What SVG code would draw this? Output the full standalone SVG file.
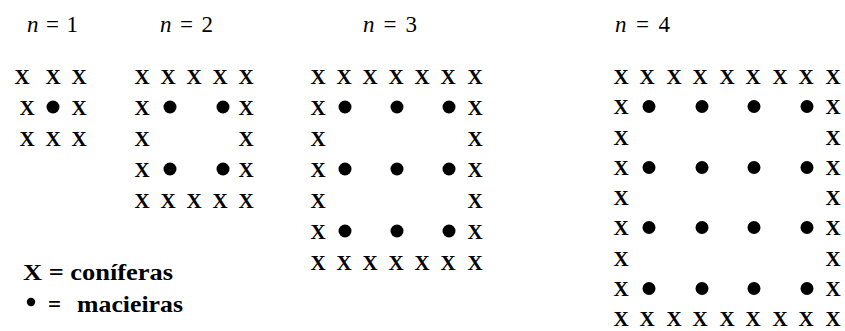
<svg xmlns="http://www.w3.org/2000/svg" width="845" height="331" viewBox="0 0 845 331">
<style>
.x{font-family:"Liberation Serif","Times New Roman",serif;font-weight:bold;font-size:21px;text-anchor:middle;fill:#000}
.lbl{font-family:"Liberation Serif","Times New Roman",serif;font-size:23px;fill:#000}
.lg{font-family:"Liberation Serif","Times New Roman",serif;font-weight:bold;font-size:23px;fill:#000}
.d{fill:#000}
</style>
<rect width="845" height="331" fill="#fff"/>
<g id="n1">
<text class="lbl" x="27" y="32" textLength="51" lengthAdjust="spacing"><tspan font-style="italic">n</tspan> = 1</text>
<text class="x" x="22" y="84">X</text><text class="x" x="53" y="84">X</text><text class="x" x="79" y="84">X</text>
<text class="x" x="27" y="115">X</text><circle class="d" cx="53" cy="107" r="6.5"/><text class="x" x="79" y="115">X</text>
<text class="x" x="27" y="146">X</text><text class="x" x="53" y="146">X</text><text class="x" x="79" y="146">X</text>
</g>
<g id="n2">
<text class="lbl" x="160" y="32" textLength="53" lengthAdjust="spacing"><tspan font-style="italic">n</tspan> = 2</text>
<text class="x" x="142" y="84">X</text><text class="x" x="168" y="84">X</text><text class="x" x="194" y="84">X</text><text class="x" x="220" y="84">X</text><text class="x" x="246" y="84">X</text>
<text class="x" x="142" y="115">X</text><text class="x" x="246" y="115">X</text>
<text class="x" x="142" y="146">X</text><text class="x" x="246" y="146">X</text>
<text class="x" x="142" y="177">X</text><text class="x" x="246" y="177">X</text>
<text class="x" x="142" y="208">X</text><text class="x" x="168" y="208">X</text><text class="x" x="194" y="208">X</text><text class="x" x="220" y="208">X</text><text class="x" x="246" y="208">X</text>
<circle class="d" cx="170" cy="107" r="6.5"/><circle class="d" cx="223" cy="107" r="6.5"/>
<circle class="d" cx="170" cy="169" r="6.5"/><circle class="d" cx="223" cy="169" r="6.5"/>
</g>
<g id="n3">
<text class="lbl" x="363" y="32" textLength="54" lengthAdjust="spacing"><tspan font-style="italic">n</tspan> = 3</text>
<text class="x" x="318" y="84">X</text><text class="x" x="344" y="84">X</text><text class="x" x="370" y="84">X</text><text class="x" x="396" y="84">X</text><text class="x" x="422" y="84">X</text><text class="x" x="448" y="84">X</text><text class="x" x="475" y="84">X</text>
<text class="x" x="318" y="115">X</text><text class="x" x="475" y="115">X</text>
<text class="x" x="318" y="146">X</text><text class="x" x="475" y="146">X</text>
<text class="x" x="318" y="177">X</text><text class="x" x="475" y="177">X</text>
<text class="x" x="318" y="208">X</text><text class="x" x="475" y="208">X</text>
<text class="x" x="318" y="239">X</text><text class="x" x="475" y="239">X</text>
<text class="x" x="318" y="270">X</text><text class="x" x="344" y="270">X</text><text class="x" x="370" y="270">X</text><text class="x" x="396" y="270">X</text><text class="x" x="422" y="270">X</text><text class="x" x="448" y="270">X</text><text class="x" x="475" y="270">X</text>
<circle class="d" cx="345" cy="107" r="6.5"/><circle class="d" cx="397" cy="107" r="6.5"/><circle class="d" cx="449" cy="107" r="6.5"/>
<circle class="d" cx="345" cy="169" r="6.5"/><circle class="d" cx="397" cy="169" r="6.5"/><circle class="d" cx="449" cy="169" r="6.5"/>
<circle class="d" cx="345" cy="231" r="6.5"/><circle class="d" cx="397" cy="231" r="6.5"/><circle class="d" cx="449" cy="231" r="6.5"/>
</g>
<g id="n4">
<text class="lbl" x="615" y="32" textLength="55" lengthAdjust="spacing"><tspan font-style="italic">n</tspan> = 4</text>
<text class="x" x="621" y="84">X</text><text class="x" x="647" y="84">X</text><text class="x" x="674" y="84">X</text><text class="x" x="700" y="84">X</text><text class="x" x="727" y="84">X</text><text class="x" x="753" y="84">X</text><text class="x" x="780" y="84">X</text><text class="x" x="806" y="84">X</text><text class="x" x="833" y="84">X</text>
<text class="x" x="621" y="114">X</text><text class="x" x="833" y="114">X</text>
<text class="x" x="621" y="144.5">X</text><text class="x" x="833" y="144.5">X</text>
<text class="x" x="621" y="175">X</text><text class="x" x="833" y="175">X</text>
<text class="x" x="621" y="205">X</text><text class="x" x="833" y="205">X</text>
<text class="x" x="621" y="235">X</text><text class="x" x="833" y="235">X</text>
<text class="x" x="621" y="265.5">X</text><text class="x" x="833" y="265.5">X</text>
<text class="x" x="621" y="296">X</text><text class="x" x="833" y="296">X</text>
<text class="x" x="621" y="326">X</text><text class="x" x="647" y="326">X</text><text class="x" x="674" y="326">X</text><text class="x" x="700" y="326">X</text><text class="x" x="727" y="326">X</text><text class="x" x="753" y="326">X</text><text class="x" x="780" y="326">X</text><text class="x" x="806" y="326">X</text><text class="x" x="833" y="326">X</text>
<circle class="d" cx="649" cy="106.5" r="6.5"/><circle class="d" cx="702" cy="106.5" r="6.5"/><circle class="d" cx="754" cy="106.5" r="6.5"/><circle class="d" cx="807" cy="106.5" r="6.5"/>
<circle class="d" cx="649" cy="167.5" r="6.5"/><circle class="d" cx="702" cy="167.5" r="6.5"/><circle class="d" cx="754" cy="167.5" r="6.5"/><circle class="d" cx="807" cy="167.5" r="6.5"/>
<circle class="d" cx="649" cy="227.5" r="6.5"/><circle class="d" cx="702" cy="227.5" r="6.5"/><circle class="d" cx="754" cy="227.5" r="6.5"/><circle class="d" cx="807" cy="227.5" r="6.5"/>
<circle class="d" cx="649" cy="288.5" r="6.5"/><circle class="d" cx="702" cy="288.5" r="6.5"/><circle class="d" cx="754" cy="288.5" r="6.5"/><circle class="d" cx="807" cy="288.5" r="6.5"/>
</g>
<g id="legend">
<text class="lg" x="23" y="280" textLength="150" lengthAdjust="spacingAndGlyphs">X = coníferas</text>
<circle class="d" cx="31" cy="302" r="4.2"/>
<text class="lg" x="48" y="312">=</text>
<text class="lg" x="77" y="312" textLength="106" lengthAdjust="spacingAndGlyphs">macieiras</text>
</g>
</svg>
